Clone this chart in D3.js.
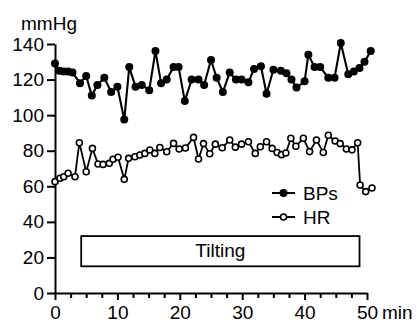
<!DOCTYPE html>
<html><head><meta charset="utf-8">
<script src="https://cdn.jsdelivr.net/npm/d3@7"></script>
<style>
html,body{margin:0;padding:0;background:#fff;}
svg{display:block;font-family:"Liberation Sans",Arial,Helvetica,sans-serif;}
</style></head>
<body>
<script>
// ---- data ----
const bpsTime = [0,0.7,1.4,2.1,2.8,4.0,5.0,5.9,6.8,7.9,9.0,10.0,11.1,11.9,12.9,13.9,15.1,16.1,17.0,17.9,19.0,19.8,20.8,21.9,23.0,23.9,25.0,25.9,26.9,28.0,29.0,29.9,31.0,31.9,33.0,33.9,35.0,36.2,37.1,37.9,38.7,40.0,40.6,41.6,42.5,43.8,44.8,45.8,47.0,47.9,48.8,49.6,50.6];
const bpsValue = [129,125,124.5,124.5,124,118,122,111,117,121,113,116,97.5,127,116,117,114,136,118,120,127,127,108,120,120,117,131,121,113,124,120,120,118.5,126,127.5,112,125.5,125,123.5,120,115.5,119,134,127,127,121,121,140.5,123,124.5,126.5,130,136];
const hrTime = [0,0.8,1.4,2.1,3.2,3.9,5.0,6.0,6.9,7.7,8.7,9.3,10.1,11.1,11.8,12.8,13.6,14.4,15.2,16.0,16.8,17.9,19.0,19.9,20.9,22.2,23.0,23.8,24.8,25.7,26.8,28.0,28.9,29.9,31.0,32.1,32.9,33.9,34.8,35.6,36.3,37.0,37.8,38.6,39.8,40.8,41.9,43.0,43.8,44.9,45.7,46.7,47.6,48.5,48.9,49.8,50.8];
const hrValue = [62.6,64.5,65.4,67.3,65.4,84.5,68.2,81.3,72.5,72.3,72.9,75.2,76.3,63.9,75.7,76.6,77.6,78.5,80.4,78.5,81.8,79.4,84.1,81,81.5,87.5,75.3,84,78.3,83.7,81.7,86,82,83.7,85,78.5,82.2,85,81.3,79,77.8,78.7,87,82.5,87,79.5,86,79,88.7,85.5,84,81,80.5,84.5,60.7,57,59];
const yTicks = [0,20,40,60,80,100,120,140];
const xTicks = [0,10,20,30,40,50];
const xMinorTicks = [2.5,5,7.5,12.5,15,17.5,22.5,25,27.5,32.5,35,37.5,42.5,45,47.5];
const tiltStart = 4.2, tiltEnd = 48.8, tiltLow = 15, tiltHigh = 32;
const yUnit = "mmHg", xUnit = "min", tiltLabel = "Tilting";
const seriesNames = ["BPs","HR"];

// ---- layout ----
const W = 417, H = 322;
const svg = d3.select("body").append("svg").attr("width", W).attr("height", H);
const x = d3.scaleLinear().domain([0,50]).range([55,367]);
const y = d3.scaleLinear().domain([0,140]).range([293,44]);
const FS = 19;

// tilting box
svg.append("rect")
  .attr("x", x(tiltStart)).attr("y", y(tiltHigh))
  .attr("width", x(tiltEnd)-x(tiltStart)).attr("height", y(tiltLow)-y(tiltHigh))
  .attr("fill","#fff").attr("stroke","#000").attr("stroke-width",1.8);
svg.append("text").attr("x",(x(tiltStart)+x(tiltEnd))/2).attr("y", (y(tiltHigh)+y(tiltLow))/2+6)
  .attr("text-anchor","middle").attr("font-size",FS).text(tiltLabel);

// axes
const yAxis = svg.append("g").attr("transform","translate(55,0)")
  .call(d3.axisLeft(y).tickValues(yTicks).tickSize(8).tickSizeOuter(0).tickPadding(3));
const xAxis = svg.append("g").attr("transform","translate(0,293)")
  .call(d3.axisBottom(x).tickValues(xTicks).tickSize(7).tickSizeOuter(0).tickPadding(6));
const xMinor = svg.append("g").attr("transform","translate(0,293)")
  .call(d3.axisBottom(x).tickValues(xMinorTicks).tickSize(5).tickFormat(""));
xMinor.select(".domain").remove();
[yAxis,xAxis,xMinor].forEach(g=>{
  g.selectAll("path,line").attr("stroke","#000").attr("stroke-width",2);
  g.selectAll("text").attr("font-size",FS).attr("fill","#000").attr("font-family","Liberation Sans, Arial, sans-serif");
});

svg.append("text").attr("x",21).attr("y",30).attr("font-size",FS).text(yUnit);
svg.append("text").attr("x",382).attr("y",319).attr("font-size",FS).text(xUnit);

// series
const line = d3.line().x(d=>x(d[0])).y(d=>y(d[1]));
const bps = bpsTime.map((t,i)=>[t,bpsValue[i]]);
const hr = hrTime.map((t,i)=>[t,hrValue[i]]);
svg.append("path").datum(bps).attr("d",line).attr("fill","none").attr("stroke","#000").attr("stroke-width",2.1);
svg.append("path").datum(hr).attr("d",line).attr("fill","none").attr("stroke","#000").attr("stroke-width",1.8);
svg.selectAll(".bp").data(bps).enter().append("circle")
  .attr("cx",d=>x(d[0])).attr("cy",d=>y(d[1])).attr("r",4).attr("fill","#000");
svg.selectAll(".hr").data(hr).enter().append("circle")
  .attr("cx",d=>x(d[0])).attr("cy",d=>y(d[1])).attr("r",3)
  .attr("fill","#fff").attr("stroke","#000").attr("stroke-width",1.6);

// legend
const lg = [{name:seriesNames[0],yy:193,filled:true},{name:seriesNames[1],yy:217,filled:false}];
lg.forEach(l=>{
  svg.append("line").attr("x1",272).attr("x2",295).attr("y1",l.yy).attr("y2",l.yy)
    .attr("stroke","#000").attr("stroke-width",2);
  svg.append("circle").attr("cx",283.5).attr("cy",l.yy).attr("r",l.filled?4:3)
    .attr("fill",l.filled?"#000":"#fff").attr("stroke","#000").attr("stroke-width",l.filled?0:1.6);
  svg.append("text").attr("x",303).attr("y",l.yy+7).attr("font-size",FS).text(l.name);
});
</script>
</body></html>
